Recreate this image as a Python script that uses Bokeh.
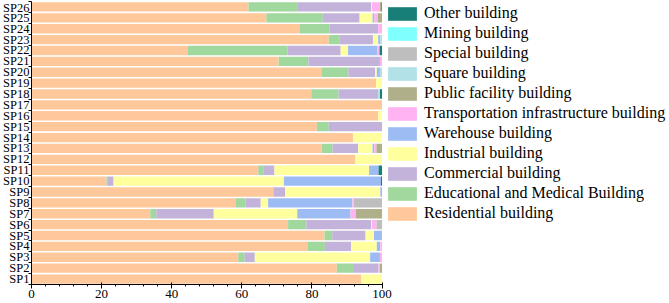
from bokeh.plotting import figure
from bokeh.models import FixedTicker, Legend, LegendItem, ColumnDataSource, Range1d
from bokeh.embed import file_html
from bokeh.resources import INLINE

sites = ["SP1", "SP2", "SP3", "SP4", "SP5", "SP6", "SP7", "SP8", "SP9", "SP10", "SP11", "SP12", "SP13",
         "SP14", "SP15", "SP16", "SP17", "SP18", "SP19", "SP20", "SP21", "SP22", "SP23", "SP24", "SP25", "SP26"]

residential = [94.0, 87.1, 59.0, 78.7, 83.6, 73.2, 33.9, 58.2, 69.0, 21.4, 64.7, 92.4, 82.7,
               91.7, 81.4, 98.9, 100.0, 79.8, 98.3, 82.7, 70.5, 44.6, 84.8, 76.6, 67.0, 61.9]
educational = [0, 4.9, 1.8, 5.0, 2.2, 5.2, 1.7, 2.9, 0, 0.4, 1.4, 0, 3.2,
               0, 3.4, 0, 0, 7.8, 0, 7.7, 8.5, 28.4, 3.0, 8.5, 16.1, 14.1]
commercial = [0, 7.0, 2.9, 7.5, 9.5, 18.5, 16.4, 4.3, 3.4, 1.6, 3.2, 0, 7.3,
              0, 15.2, 0, 0, 11.3, 0, 7.6, 20.4, 15.2, 9.6, 13.8, 10.5, 20.9]
industrial = [6.0, 0, 32.9, 7.3, 2.4, 0.2, 23.8, 2.1, 27.1, 48.6, 27.0, 7.6, 4.1,
              8.3, 0, 1.1, 0, 0, 1.7, 0.5, 0, 2.1, 1.5, 0, 3.7, 0.2]
warehouse = [0, 0, 2.8, 1.0, 2.1, 0, 15.2, 24.0, 0.5, 27.7, 2.7, 0, 0.5,
             0, 0, 0, 0, 0, 0, 0.9, 0, 8.4, 0.6, 0, 0.5, 0]
transportation = [0, 0.4, 0.6, 0.5, 0, 1.3, 1.5, 0.4, 0, 0, 0, 0, 0.6,
                  0, 0, 0, 0, 0, 0, 0, 0.6, 0.6, 0, 1.1, 1.0, 2.3]
public_facility = [0, 0.6, 0, 0, 0.2, 0, 7.5, 0, 0, 0, 0, 0, 1.6,
                   0, 0, 0, 0, 0, 0, 0, 0, 0, 0, 0, 1.2, 0.4]
square = [0, 0, 0, 0, 0, 0, 0, 0, 0, 0, 0, 0, 0,
          0, 0, 0, 0, 0.5, 0, 0.6, 0, 0, 0.5, 0, 0, 0]
special = [0, 0, 0, 0, 0, 1.6, 0, 8.1, 0, 0, 0, 0, 0,
           0, 0, 0, 0, 0, 0, 0, 0, 0, 0, 0, 0, 0]
mining = [0, 0, 0, 0, 0, 0, 0, 0, 0, 0, 0, 0, 0,
          0, 0, 0, 0, 0, 0, 0, 0, 0, 0, 0, 0, 0]
other = [0, 0, 0, 0, 0, 0, 0, 0, 0, 0.3, 1.0, 0, 0,
         0, 0, 0, 0, 0.6, 0, 0, 0, 0.7, 0, 0, 0, 0.2]

series_names = ["Residential building", "Educational and Medical Building", "Commercial building",
                "Industrial building", "Warehouse building", "Transportation infrastructure building",
                "Public facility building", "Square building", "Special building", "Mining building",
                "Other building"]
series_values = [residential, educational, commercial, industrial, warehouse, transportation,
                 public_facility, square, special, mining, other]
colors = ["#FFC89A", "#A0D89E", "#C3B3DA", "#FFFF9E", "#9EBCF4", "#FFB3F2",
          "#AFB08A", "#B2E2E8", "#BEBEBE", "#80FFFF", "#177E78"]

FONT = "Liberation Serif"

y = list(range(1, len(sites) + 1))
keys = [f"s{i}" for i in range(len(series_names))]
data = {"y": y}
for k, v in zip(keys, series_values):
    data[k] = v
source = ColumnDataSource(data)

# frame spans the full width; the axis is bounded to 0-100 and the legend sits in the free space
p = figure(width=669, height=303, output_backend="svg", toolbar_location=None,
           x_range=Range1d(0, 182.0), y_range=Range1d(0.5, len(sites) + 0.5),
           min_border_left=31, min_border_right=0, min_border_top=1, min_border_bottom=19)
p.outline_line_color = None
p.xgrid.visible = False
p.ygrid.visible = False

renderers = p.hbar_stack(keys, y="y", height=0.86, color=colors, line_color=None, source=source)

# y axis: labels at centres, ticks at category boundaries
p.yaxis.ticker = FixedTicker(ticks=y, minor_ticks=[v - 0.5 for v in y] + [len(sites) + 0.5])
p.yaxis.major_label_overrides = {v: s for v, s in zip(y, sites)}
p.yaxis.major_tick_out = 0
p.yaxis.major_tick_in = 0
p.yaxis.minor_tick_out = 3
p.yaxis.minor_tick_in = 0
p.yaxis.major_label_standoff = -1
p.yaxis.major_label_text_font_size = "12.5px"

p.xaxis.bounds = (0, 100)
p.xaxis.ticker = FixedTicker(ticks=[0, 20, 40, 60, 80, 100],
                             minor_ticks=[v for v in range(0, 101, 4)])
p.xaxis.major_tick_in = 2
p.xaxis.major_tick_out = 4
p.xaxis.minor_tick_in = 0
p.xaxis.minor_tick_out = 2
p.xaxis.major_label_standoff = 1
p.xaxis.major_label_text_font_size = "13px"

for ax in (p.xaxis, p.yaxis):
    ax.axis_label_standoff = 0
    ax.major_label_text_font = FONT
    ax.major_label_text_color = "black"
    ax.axis_line_color = "black"
    ax.major_tick_line_color = "black"
    ax.minor_tick_line_color = "black"

items = [LegendItem(label=n, renderers=[r]) for n, r in zip(series_names, renderers)]
items = items[::-1]
legend = Legend(items=items, location=(353, 62), padding=0, margin=0, spacing=2,
                glyph_width=36, glyph_height=17, label_height=17, label_standoff=4,
                label_text_font=FONT, label_text_font_size="16px", label_text_color="black",
                border_line_color=None, background_fill_alpha=0)
p.add_layout(legend, "center")

open("out.html", "w").write(file_html(p, INLINE))
